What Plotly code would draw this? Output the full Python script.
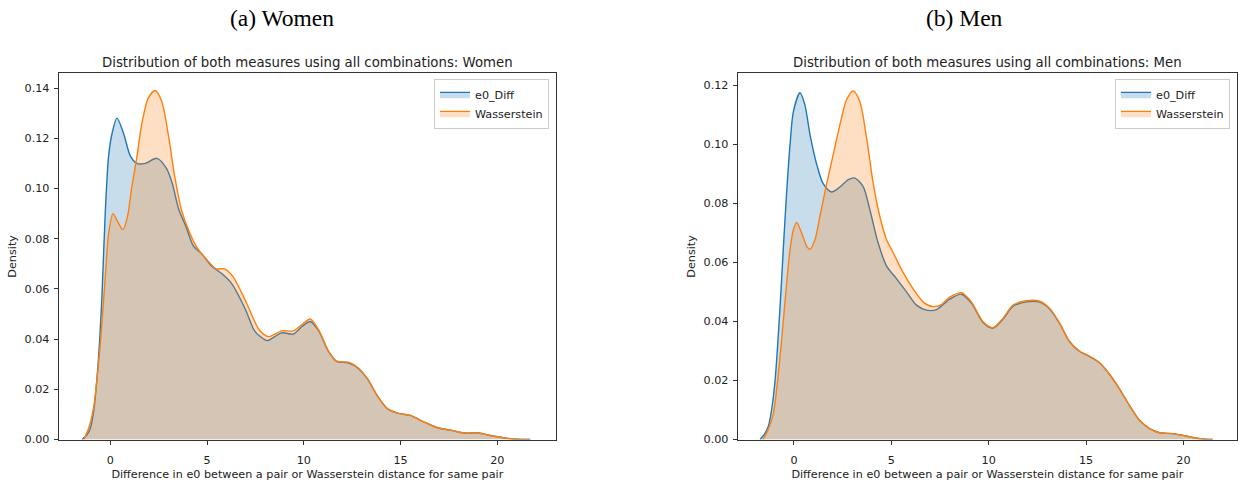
import plotly.graph_objects as go

# ---------------- data ----------------
women_e0_x = [-1.46, -1.2, -1.03, -0.85, -0.68, -0.55, -0.43, -0.26, -0.09, 0.09, 0.34, 0.68, 1.03,
              1.37, 1.8, 2.4, 2.9, 3.2, 3.54, 3.9, 4.3, 4.74, 5.25, 5.77, 6.28, 6.97, 7.48, 8.0,
              8.17, 8.85, 9.46, 9.9, 10.33, 10.77, 11.28, 11.71, 12.3, 12.8, 13.3, 13.8, 14.33,
              14.84, 15.5, 16.2, 16.9, 17.6, 18.27, 19.04, 19.64, 20.3, 21.0, 21.7]
women_e0_y = [0.0, 0.002, 0.0046, 0.012, 0.0255, 0.040, 0.058, 0.091, 0.113, 0.122, 0.128, 0.122,
              0.113, 0.110, 0.110, 0.112, 0.108, 0.102, 0.0915, 0.085, 0.077, 0.0738, 0.069, 0.066,
              0.062, 0.052, 0.043, 0.0397, 0.0395, 0.0425, 0.042, 0.045, 0.047, 0.0432, 0.035,
              0.031, 0.0306, 0.0284, 0.024, 0.0174, 0.0122, 0.0105, 0.0096, 0.007, 0.0047, 0.0037,
              0.0026, 0.0026, 0.0016, 0.0007, 0.0001, 0.0]

women_w_x = [-1.37, -1.1, -0.86, -0.68, -0.51, -0.26, -0.09, 0.14, 0.43, 0.65, 0.89, 1.11, 1.37,
             1.62, 1.96, 2.31, 2.65, 2.99, 3.33, 3.67, 4.1, 4.53, 4.96, 5.47, 5.9, 6.33, 7.0, 7.7,
             8.17, 8.85, 9.46, 9.9, 10.33, 10.77, 11.28, 11.71, 12.3, 12.8, 13.3, 13.8, 14.33,
             14.84, 15.5, 16.2, 16.9, 17.6, 18.27, 19.04, 19.64, 20.3, 21.0, 21.7]
women_w_y = [0.0, 0.005, 0.013, 0.025, 0.039, 0.065, 0.082, 0.090, 0.086, 0.0836, 0.089, 0.1007,
             0.1125, 0.1256, 0.136, 0.139, 0.1348, 0.1216, 0.1046, 0.0915, 0.0823, 0.0758, 0.0718,
             0.068, 0.068, 0.065, 0.055, 0.0436, 0.041, 0.0433, 0.0433, 0.0458, 0.048, 0.0436,
             0.0351, 0.0312, 0.0308, 0.0286, 0.024, 0.0174, 0.0122, 0.0105, 0.0096, 0.007, 0.0047,
             0.0037, 0.0026, 0.0026, 0.0016, 0.0007, 0.0001, 0.0]

men_e0_x = [-1.74, -1.5, -1.32, -1.15, -0.97, -0.72, -0.55, -0.38, -0.2, -0.03, 0.31, 0.56, 0.82,
            1.16, 1.5, 1.93, 2.36, 2.79, 3.13, 3.56, 3.9, 4.32, 4.75, 5.27, 5.78, 6.29, 6.8, 7.32,
            8.0, 8.6, 9.11, 9.71, 10.22, 10.73, 11.25, 11.93, 12.62, 13.13, 13.64, 14.15, 14.67,
            15.18, 15.69, 16.2, 16.72, 17.23, 17.74, 18.26, 18.77, 19.45, 19.96, 20.48, 20.99, 21.5]
men_e0_y = [0.0, 0.002, 0.0044, 0.010, 0.020, 0.0444, 0.0644, 0.0833, 0.100, 0.111, 0.1174, 0.1133,
            0.1033, 0.0933, 0.0866, 0.0838, 0.0855, 0.088, 0.0885, 0.0855, 0.0777, 0.0666, 0.0588,
            0.0544, 0.050, 0.0455, 0.0438, 0.0440, 0.0475, 0.0492, 0.0462, 0.0396, 0.0377, 0.0407,
            0.0451, 0.0466, 0.0465, 0.0442, 0.0393, 0.0331, 0.0298, 0.0281, 0.026, 0.0221, 0.0171,
            0.0115, 0.0065, 0.0037, 0.0023, 0.002, 0.0014, 0.0007, 0.0002, 0.0]

men_w_x = [-1.6, -1.35, -1.06, -0.72, -0.46, -0.2, -0.03, 0.14, 0.39, 0.65, 0.82, 1.08, 1.33, 1.68,
           2.02, 2.36, 2.7, 3.04, 3.38, 3.73, 4.07, 4.41, 4.75, 5.09, 5.6, 6.12, 6.63, 7.14, 7.57,
           8.0, 8.6, 9.11, 9.71, 10.22, 10.73, 11.25, 11.93, 12.62, 13.13, 13.64, 14.15, 14.67,
           15.18, 15.69, 16.2, 16.72, 17.23, 17.74, 18.26, 18.77, 19.45, 19.96, 20.48, 20.99, 21.5]
men_w_y = [0.0, 0.003, 0.0088, 0.0277, 0.0466, 0.0644, 0.071, 0.0735, 0.070, 0.0655, 0.0644, 0.0677,
           0.0755, 0.0866, 0.0966, 0.1066, 0.115, 0.118, 0.1144, 0.102, 0.0866, 0.0755, 0.0677,
           0.0633, 0.0566, 0.051, 0.0466, 0.045, 0.0457, 0.0482, 0.0497, 0.0466, 0.0399, 0.0379,
           0.041, 0.0455, 0.047, 0.0468, 0.0444, 0.0394, 0.0332, 0.0299, 0.0282, 0.026, 0.0221,
           0.0171, 0.0115, 0.0065, 0.0037, 0.0023, 0.002, 0.0014, 0.0007, 0.0002, 0.0]

series_names = ["e0_Diff", "Wasserstein"]
panel_labels = ["(a) Women", "(b) Men"]
panel_titles = ["Distribution of both measures using all combinations: Women",
                "Distribution of both measures using all combinations: Men"]
x_label = "Difference in e0 between a pair or Wasserstein distance for same pair"
y_label = "Density"
x_ticks = [0, 5, 10, 15, 20]
women_y_ticks = [0.0, 0.02, 0.04, 0.06, 0.08, 0.10, 0.12, 0.14]
men_y_ticks = [0.0, 0.02, 0.04, 0.06, 0.08, 0.10, 0.12]

# ---------------- styling ----------------
BLUE = "#1f77b4"
ORANGE = "#ff7f0e"
FILL_BLUE = "rgba(31,119,180,0.25)"
FILL_ORANGE = "rgba(255,127,14,0.25)"
FONT = "DejaVu Sans"
TXT = "#222222"
SMALL = 11.2
TITLE = 13.3
W, H = 1239, 483

fig = go.Figure()

panels = [
    (women_e0_x, women_e0_y, women_w_x, women_w_y, "x", "y", "legend"),
    (men_e0_x, men_e0_y, men_w_x, men_w_y, "x2", "y2", "legend2"),
]
for ex, ey, wx, wy, xa, ya, lg in panels:
    fig.add_trace(go.Scatter(x=ex, y=ey, name=series_names[0], mode="lines",
                             line=dict(color=BLUE, width=1.4, shape="spline", smoothing=0.8),
                             fill="tozeroy", fillcolor=FILL_BLUE, xaxis=xa, yaxis=ya, legend=lg))
    fig.add_trace(go.Scatter(x=wx, y=wy, name=series_names[1], mode="lines",
                             line=dict(color=ORANGE, width=1.4, shape="spline", smoothing=0.8),
                             fill="tozeroy", fillcolor=FILL_ORANGE, xaxis=xa, yaxis=ya, legend=lg))

def px_x(p):
    return p / W

def px_y(p):
    return (H - p) / H

ydom = [px_y(446), px_y(74.3)]
axis_common = dict(showgrid=False, zeroline=False, showline=True, mirror=True,
                   linecolor="#333333", linewidth=1, ticks="outside", ticklen=4,
                   tickcolor="#333333", tickwidth=1,
                   tickfont=dict(family=FONT, size=SMALL, color=TXT))
title_font = dict(family=FONT, size=SMALL, color=TXT)

fig.update_layout(
    width=W, height=H,
    paper_bgcolor="white", plot_bgcolor="white",
    margin=dict(l=0, r=0, t=0, b=0),
    font=dict(family=FONT, color=TXT),
    xaxis=dict(domain=[px_x(58.7), px_x(556)], range=[-2.67, 23.03], tickvals=x_ticks,
               anchor="y", ticklabelstandoff=6,
               title=dict(text=x_label, font=title_font, standoff=4),
               **axis_common),
    yaxis=dict(domain=ydom, range=[0, 0.1459], tickvals=women_y_ticks, tickformat=".2f",
               anchor="x", ticklabelstandoff=2,
               title=dict(text=y_label, font=title_font, standoff=5),
               **axis_common),
    xaxis2=dict(domain=[px_x(737.7), px_x(1237)], range=[-2.89, 22.75], tickvals=x_ticks,
                anchor="y2", ticklabelstandoff=6,
                title=dict(text=x_label, font=title_font, standoff=4),
                **axis_common),
    yaxis2=dict(domain=ydom, range=[0, 0.124], tickvals=men_y_ticks, tickformat=".2f",
                anchor="x2", ticklabelstandoff=2,
                title=dict(text=y_label, font=title_font, standoff=5),
                **axis_common),
    legend=dict(x=px_x(549), y=px_y(80), xanchor="right", yanchor="top",
                bgcolor="white", bordercolor="#cccccc", borderwidth=1,
                font=dict(family=FONT, size=SMALL, color=TXT), itemwidth=30,
                tracegroupgap=0),
    legend2=dict(x=px_x(1230), y=px_y(80), xanchor="right", yanchor="top",
                 bgcolor="white", bordercolor="#cccccc", borderwidth=1,
                 font=dict(family=FONT, size=SMALL, color=TXT), itemwidth=30,
                 tracegroupgap=0),
    showlegend=True,
)

annotations = [
    dict(text=panel_labels[0], x=px_x(282), y=px_y(18), xref="paper", yref="paper",
         xanchor="center", yanchor="middle", showarrow=False,
         font=dict(family="Liberation Serif", size=23.5, color="black")),
    dict(text=panel_labels[1], x=px_x(964), y=px_y(18), xref="paper", yref="paper",
         xanchor="center", yanchor="middle", showarrow=False,
         font=dict(family="Liberation Serif", size=23.5, color="black")),
    dict(text=panel_titles[0], x=px_x(307), y=px_y(63.5), xref="paper", yref="paper",
         xanchor="center", yanchor="middle", showarrow=False,
         font=dict(family=FONT, size=TITLE, color=TXT)),
    dict(text=panel_titles[1], x=px_x(987), y=px_y(63.5), xref="paper", yref="paper",
         xanchor="center", yanchor="middle", showarrow=False,
         font=dict(family=FONT, size=TITLE, color=TXT)),
]
fig.update_layout(annotations=annotations)

fig.write_html("out.html",
               config={"displayModeBar": False},
               post_script="document.body.style.margin='0';document.body.style.padding='0';")
